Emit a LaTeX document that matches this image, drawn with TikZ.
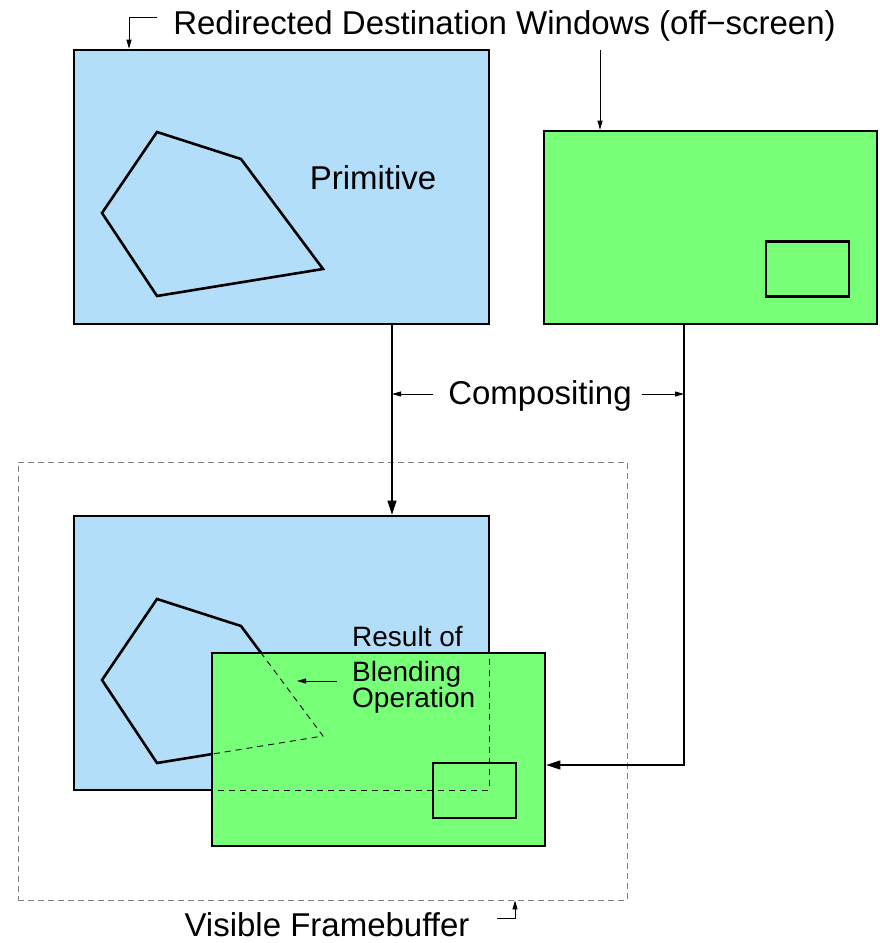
\documentclass[tikz,border=0pt]{standalone}
\usepackage{fontspec}
\setmainfont{Liberation Sans}
\usetikzlibrary{arrows.meta}
\definecolor{winblue}{RGB}{179,222,250}
\definecolor{wingreen}{RGB}{119,255,119}
\begin{document}
\begin{tikzpicture}[x=1pt,y=-1pt,
  bluebox/.style={draw=black,line width=2.6pt,fill=winblue,inner sep=0pt,minimum width=415pt,minimum height=274pt},
  greenbox/.style={draw=black,line width=2.6pt,fill=wingreen,inner sep=0pt,minimum width=333pt,minimum height=193pt},
  smallbox/.style={draw=black,line width=2.6pt,inner sep=0pt,minimum width=83pt,minimum height=55pt},
  poly/.style={draw=black,line width=2.6pt,line join=miter},
  conn/.style={draw=black,line width=1.1pt,-{Triangle[length=14pt,width=9pt]}},
  thin/.style={draw=black,line width=0.8pt,-{Triangle[length=9pt,width=5pt]}},
  hidden/.style={draw=black,line width=0.9pt,dash pattern=on 6pt off 5pt},
  lbl/.style={inner sep=0pt,font=\fontsize{33}{38}\selectfont},
  slbl/.style={inner sep=0pt,font=\fontsize{28}{28}\selectfont,align=left}]
\useasboundingbox (0,0) rectangle (880,943);
% framebuffer
\node[draw=gray,line width=0.9pt,dash pattern=on 6pt off 4pt,inner sep=0pt,minimum width=609pt,minimum height=438pt] (fb) at (322.5,681) {};
% top windows
\node[bluebox] (tl) at (281.5,187) {};
\draw[poly] (157,132) -- (241,159) -- (323,269) -- (157,296) -- (102,213) -- cycle;
\node[lbl] (prim) at (373,178) {Primitive};
\node[greenbox] (tr) at (710.5,227.5) {};
\node[smallbox] (tri) at (807.5,269) {};
% bottom windows
\node[bluebox] (bl) at (281.5,653) {};
\draw[poly] (157,599) -- (241,626) -- (323,736) -- (157,763) -- (102,680) -- cycle;
\node[greenbox] (br) at (378.5,749.5) {};
\node[smallbox] (bri) at (474.5,790.5) {};
\begin{scope}
\clip (213.3,654.3) rectangle (543.7,844.7);
\draw[hidden] (157,599) -- (241,626) -- (323,736) -- (157,763) -- (102,680) -- cycle;
\draw[hidden] (74,516) rectangle (489,790);
\end{scope}
% titles
\node[lbl] (title) at (504.5,26) {Redirected Destination Windows (off−screen)};
\coordinate (t1) at (157,17);
\coordinate (t2) at (129,17);
\draw[thin] (t1) -- (t2) -- (t2 |- tl.north);
\coordinate (t3) at (600,50);
\draw[thin] (t3) -- (t3 |- tr.north);
% connectors
\coordinate (c1) at (392,324);
\draw[conn] (c1) -- (c1 |- bl.north);
\coordinate (c2) at (684,324);
\coordinate (c3) at (684,765);
\draw[conn] (c2) -- (c3) -- (c3 -| br.east);
\node[lbl] (comp) at (540,396) {Compositing};
\coordinate (a1) at (433,394);
\coordinate (a2) at (642,394);
\draw[thin] (a1) -- (a1 -| c1);
\draw[thin] (a2) -- (a2 -| c2);
% blending label
\node[slbl,anchor=north west] (res) at (352,626) {Result of\\[7pt]Blending\\[-2pt]Operation};
\coordinate (b1) at (337,681);
\coordinate (b2) at (297,681);
\draw[thin] (b1) -- (b2);
% framebuffer label
\node[lbl] (vis) at (327,925) {Visible Framebuffer};
\coordinate (v1) at (497,918);
\coordinate (v2) at (515,918);
\draw[thin] (v1) -- (v2) -- (v2 |- fb.south);
\end{tikzpicture}
\end{document}
